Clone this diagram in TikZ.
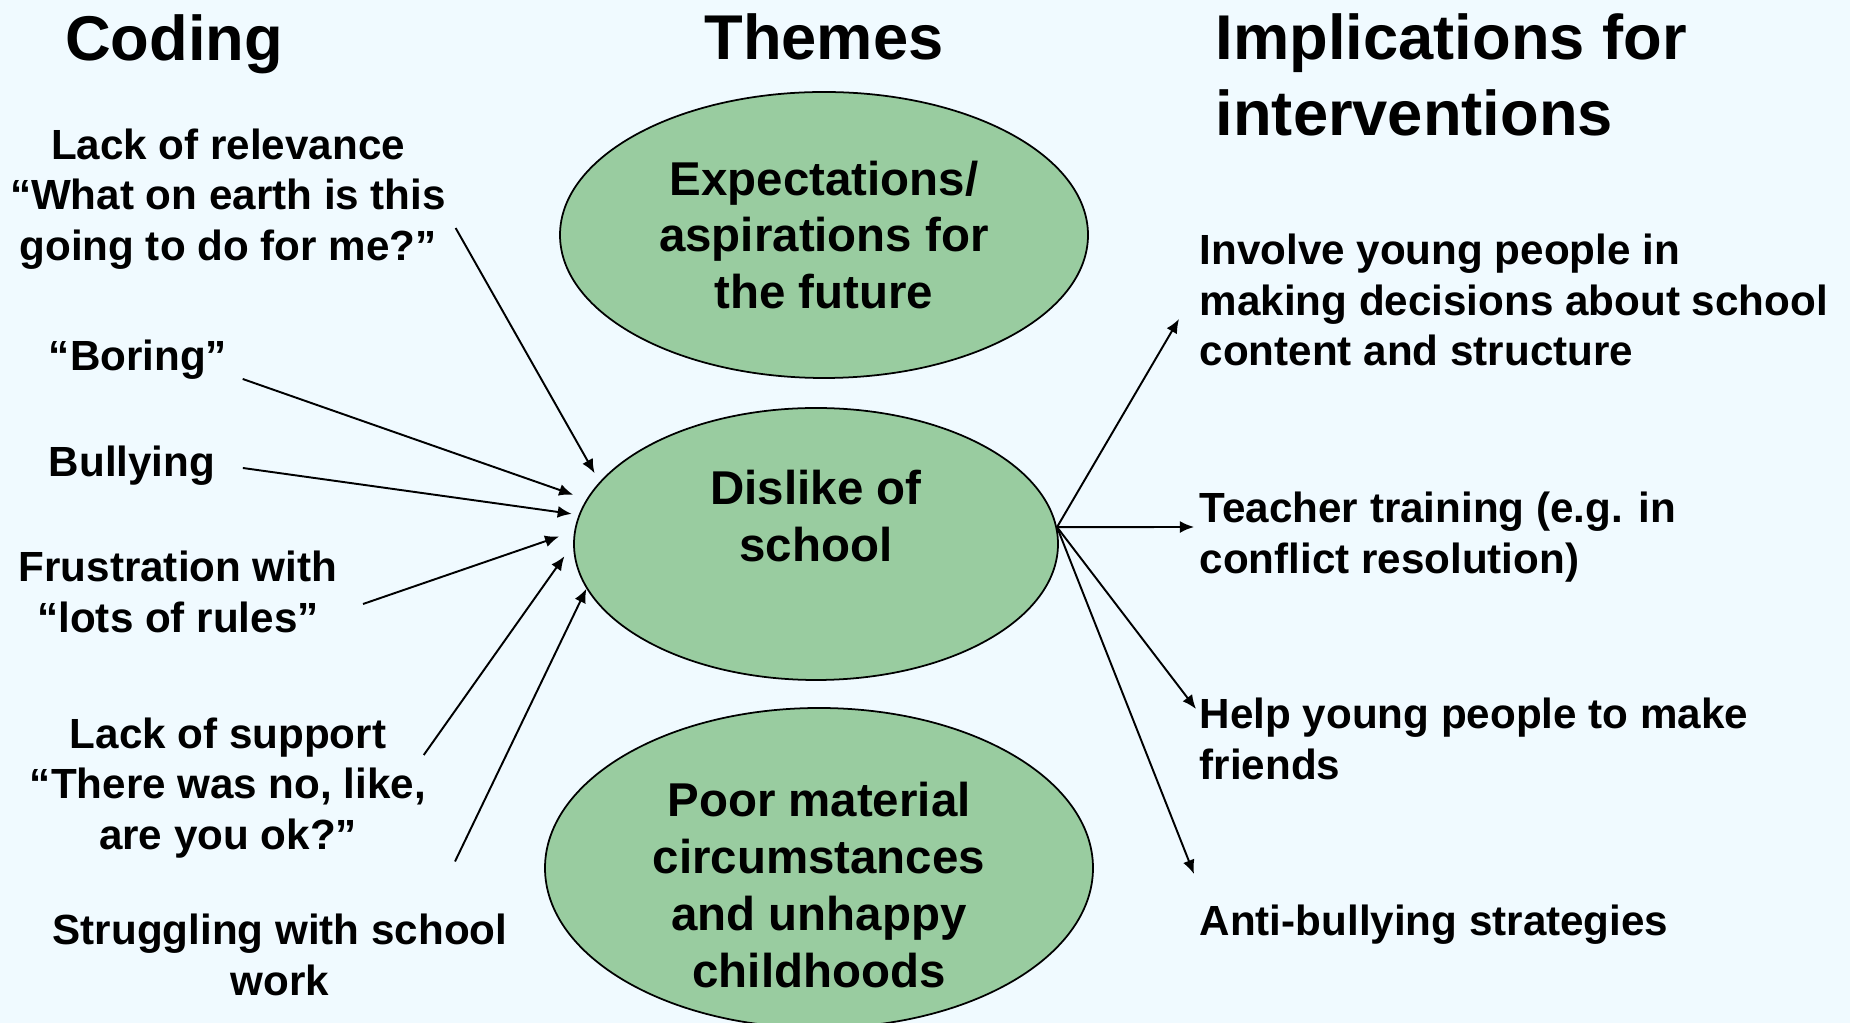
\documentclass[tikz,border=0pt]{standalone}
\usepackage{fontspec}
\setmainfont{Liberation Sans}
\usetikzlibrary{arrows.meta,shapes.geometric}
\definecolor{bgblue}{RGB}{240,250,255}
\definecolor{themegreen}{RGB}{153,204,160}
\begin{document}
\begin{tikzpicture}[>={Latex[length=4pt,width=3.4pt]},
    heading/.style={inner sep=0, font=\bfseries\fontsize{18}{21.6}\selectfont},
    codetext/.style={inner sep=0, align=center, font=\bfseries\fontsize{12}{14.4}\selectfont},
    impltext/.style={inner sep=0, anchor=west, align=left, font=\bfseries\fontsize{12}{14.4}\selectfont},
    themetext/.style={inner sep=0, align=center, font=\bfseries\fontsize{13.5}{16.2}\selectfont},
    themebox/.style={ellipse, draw, line width=0.5pt, fill=themegreen, themetext},
    link/.style={draw, ->, line width=0.55pt}]
      \path[use as bounding box, fill=bgblue] (0,0) rectangle (18.5,-10.23);
      % column headings
      \node[heading] at (1.74,-0.44) (hcod) {Coding};
      \node[heading] at (8.24,-0.37) (hthm) {Themes};
      \node[heading, anchor=west, align=left] at (12.15,-0.75) (himp) {Implications for\\interventions};
      % themes
      \node[themebox, minimum width=5.28cm, minimum height=2.86cm] at (8.24,-2.35) (exp)
        {Expectations/\\aspirations for\\the future};
      \node[themebox, minimum width=4.84cm, minimum height=2.72cm] at (8.16,-5.44) (dis)
        {Dislike of\\school\\~};
      \node[themebox, minimum width=5.48cm, minimum height=3.2cm] at (8.19,-8.68) (poor) {};
      \node[themetext] at (8.19,-8.85) (poortxt)
        {Poor material\\circumstances\\and unhappy\\childhoods};
      % codes
      \node[codetext] at (2.28,-1.99) (rel) {Lack of relevance\\“What on earth is this\\going to do for me?”};
      \node[codetext] at (1.38,-3.60) (bor) {“Boring”};
      \node[codetext] at (1.32,-4.66) (bul) {Bullying};
      \node[codetext] at (1.78,-5.92) (fru) {Frustration with\\“lots of rules”};
      \node[codetext] at (2.28,-7.88) (sup) {Lack of support\\“There was no, like,\\are you ok?”};
      \node[codetext] at (2.80,-9.55) (str) {Struggling with school\\work};
      % interventions
      \node[impltext] at (11.99,-3.00) (inv) {Involve young people in\\making decisions about school\\content and structure};
      \node[impltext] at (11.99,-5.37) (tea) {Teacher training (e.g. in\\conflict resolution)};
      \node[impltext] at (11.99,-7.39) (hlp) {Help young people to make\\friends};
      \node[impltext] at (11.99,-9.25) (anti) {Anti-bullying strategies};
      % codes -> dislike of school
      \path[link, shorten >=0.10cm] ([shift={(0.09,-0.29)}]rel.east) -- (dis.164.5);
      \path[link, shorten >=0.14cm] ([shift={(0.15,-0.19)}]bor.east) -- (dis.169);
      \path[link, shorten >=0.07cm] ([shift={(0.27,-0.02)}]bul.east) -- (dis.173);
      \path[link, shorten >=0.16cm] ([shift={(0.25,-0.12)}]fru.east) -- (dis.177);
      \path[link, shorten >=0.15cm] ([shift={(-0.03,0.33)}]sup.east) -- (dis.180);
      \path[link] ([shift={(1.75,0.52)}]str.north) -- (dis.191.5);
      % dislike of school -> interventions
      \path[link] (dis.4) -- ([shift={(-0.20,-0.19)}]inv.west);
      \path[link] (dis.4) -- ([shift={(-0.05,0.10)}]tea.west);
      \path[link] (dis.4) -- ([shift={(-0.03,0.30)}]hlp.west);
      \path[link] (dis.4) -- ([shift={(-0.05,0.51)}]anti.west);
    \end{tikzpicture}
\end{document}
